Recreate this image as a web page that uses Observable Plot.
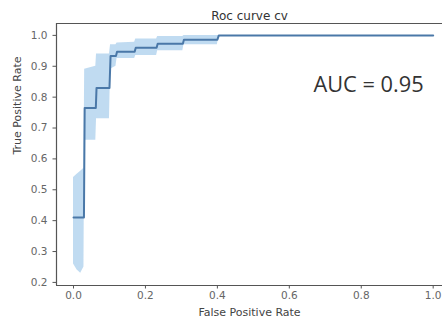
<!DOCTYPE html>
<html>
<head>
<meta charset="utf-8">
<script src="https://cdn.jsdelivr.net/npm/d3@7"></script>
<script src="https://cdn.jsdelivr.net/npm/@observablehq/plot@0.6"></script>
<style>
  html, body { margin: 0; padding: 0; background: #fff; overflow: hidden; }
  svg { display: block; }
</style>
</head>
<body>
<div id="chart"></div>
<script>
// Mean ROC curve (cross-validated) with ±1 std band
const fpr     = [0, 0.010, 0.020, 0.029, 0.031, 0.062, 0.064, 0.100, 0.103, 0.118, 0.121, 0.170, 0.173, 0.231, 0.234, 0.304, 0.307, 0.400, 0.404, 1.0];
const tprMean = [0.41, 0.41, 0.41, 0.41, 0.765, 0.765, 0.83, 0.83, 0.933, 0.933, 0.947, 0.947, 0.96, 0.96, 0.973, 0.973, 0.986, 0.986, 1.0, 1.0];
const tprLow  = [0.26, 0.24, 0.23, 0.25, 0.66, 0.66, 0.73, 0.73, 0.89, 0.90, 0.925, 0.925, 0.935, 0.935, 0.95, 0.95, 0.97, 0.97, 1.0, 1.0];
const tprHigh = [0.54, 0.55, 0.56, 0.57, 0.89, 0.90, 0.94, 0.94, 0.97, 0.97, 0.975, 0.978, 0.988, 0.988, 0.996, 0.996, 1.0, 1.0, 1.0, 1.0];
const xTicks = [0, 0.2, 0.4, 0.6, 0.8, 1.0];
const yTicks = [0.2, 0.3, 0.4, 0.5, 0.6, 0.7, 0.8, 0.9, 1.0];
const titleText = "Roc curve cv";
const xLabel = "False Positive Rate";
const yLabel = "True Positive Rate";
const aucLabel = "AUC = 0.95";
const aucPos = {x: 0.667, y: 0.84};

const data = fpr.map((f, i) => ({fpr: f, mean: tprMean[i], lo: tprLow[i], hi: tprHigh[i]}));

const xDom = [-0.0473, 1.0259];
const yDom = [0.19, 1.0385];
const axisColor = "#555";
const font = "DejaVu Sans, sans-serif";

const chart = Plot.plot({
  width: 442,
  height: 325,
  marginLeft: 56,
  marginRight: 0,
  marginTop: 23,
  marginBottom: 40,
  style: {fontFamily: font, background: "#fff", overflow: "visible"},
  x: {domain: xDom},
  y: {domain: yDom},
  marks: [
    Plot.areaY(data, {x: "fpr", y1: "lo", y2: "hi", fill: "#b5d5ef", fillOpacity: 0.85}),
    Plot.line(data, {x: "fpr", y: "mean", stroke: "#4a78a8", strokeWidth: 2}),
    Plot.axisX({ticks: xTicks, tickFormat: d3.format(".1f"), tickSize: 3.5, tickPadding: 3,
                fontSize: 10.5, color: "#666", stroke: axisColor, label: null}),
    Plot.axisY({ticks: yTicks, tickFormat: d3.format(".1f"), tickSize: 3.5, tickPadding: 5.5,
                fontSize: 10.5, color: "#666", stroke: axisColor, label: null}),
    Plot.ruleX([xDom[0]], {stroke: axisColor, strokeWidth: 1.2}),
    Plot.ruleY([yDom[0]], {stroke: axisColor, strokeWidth: 1.2}),
    Plot.ruleY([yDom[1]], {stroke: axisColor, strokeWidth: 1.2}),
    Plot.text([titleText], {frameAnchor: "top", dy: -12, fontSize: 12, fill: "#333", text: d => d}),
    Plot.text([xLabel], {frameAnchor: "bottom", dy: 30, fontSize: 11, fill: "#444", text: d => d}),
    Plot.text([yLabel], {frameAnchor: "left", dx: -39, rotate: -90, fontSize: 11, fill: "#444", text: d => d}),
    Plot.text([aucLabel], {x: aucPos.x, y: aucPos.y, text: d => d, textAnchor: "start",
                           fontSize: 21.8, fontFamily: "Open Sans, sans-serif", fill: "#333"})
  ]
});
document.getElementById("chart").appendChild(chart);
</script>
</body>
</html>
